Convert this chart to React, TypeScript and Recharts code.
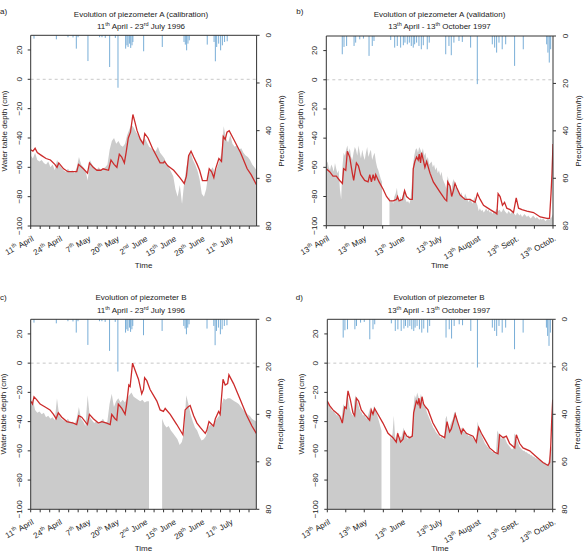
import React from 'react';
import {
  ComposedChart,
  Area,
  Line,
  XAxis,
  YAxis,
  ReferenceLine,
} from 'recharts';

const FONT = '"Liberation Sans", Arial, Helvetica, sans-serif';

// observed water table depth (cm), one value per day, null = missing record
const obsA = [
  -52, -54, -50, -55, -56, -55, -57, -58, -56, -60,
  -58, -62, -55, -58, -60, -62, -63, -61, -63, -62,
  -64, -60, -53, -58, -60, -62, -69, -55, -58, -60,
  -62, -60, -62, -61, -60, -58, -48, -42, -40, -44,
  -42, -45, -46, -44, -38, -34, -31, -33, -36, -38,
  -40, -42, -40, -43, -46, -47, -48, -49, -46, -50,
  -52, -54, -58, -60, -63, -66, -75, -80, -72, -85,
  -70, -60, -52, -50, -55, -58, -62, -68, -78, -80,
  -75, -64, -62, -60, -64, -60, -56, -50, -32, -40,
  -43, -38, -44, -46, -45, -48, -47, -50, -52, -53,
  -55, -58, -60, -62,
];

const obsB = [
  -58, -56, -60, -62, -58, -60, -63, -57, -61, -64,
  -62, -75, -82, -60, -50, -52, -48, -45, -50, -47,
  -53, -55, -50, -46, -48, -52, -45, -50, -54, -48,
  -52, -55, -50, -46, -53, -50, -48, -55, -52, -50,
  -56, -60, -62, -65, -68, -70, null, null, null, null,
  null, -80, -84, -82, -85, -80, -78, -74, -82, -84,
  -80, -83, -78, -76, -82, -84, -83, -85, -82, -72,
  -58, -52, -48, -47, -50, -46, -48, -50, -47, -52,
  -50, -55, -53, -58, -57, -56, -60, -58, -62, -60,
  -64, -62, -66, -63, -68, -70, -72, -75, -66, -70,
  -72, -76, -70, -68, -74, -72, -76, -78, -80, -77,
  -80, -82, -78, -80, -82, -84, -81, -83, -85, -82,
  -80, -84, -86, -90, -88, -90, -89, -91, -90, -88,
  -90, -89, -91, -90, -92, -90, -91, -89, -88, -90,
  -89, -91, -90, -88, -90, -91, -92, -90, -91, -92,
  -90, -91, -92, -93, -91, -92, -93, -92, -94, -93,
  -92, -93, -94, -93, -94, -95, -94, -93, -94, -95,
  -94, -95, -96, -95, -96, -95, -96, -97, -96, -95,
  -96, -95, -94, -92,
];

const obsC = [
  -30, -25, -32, -34, -33, -35, -34, -37, -36, -38,
  -37, -39, -24, -36, -38, -39, -40, -38, -41, -40,
  -42, -38, -30, -38, -40, -43, -22, -37, -39, -41,
  -40, -42, -40, -38, -41, -40, -28, -21, -30, -26,
  -24, -27, -25, -27, -24, -22, -20, -23, -24, -25,
  -26, -25, -27, -26, -26, null, null, null, null, null,
  -38, -42, -44, -43, -46, -48, -50, -52, -56, -54,
  -48, -22, -28, -35, -40, -44, -46, -50, -53, -52,
  -50, -44, -42, -43, -40, -38, -36, -30, -24, -25,
  -24, -24, -25, -26, -27, -28, -30, -32, -33, -35,
  -36, -38, -39, -40,
];

const obsD = [
  -26, -28, -30, -31, -33, -32, -34, -35, -36, -34,
  -37, -40, -35, -28, -30, -29, -20, -24, -30, -33,
  -35, -36, -26, -22, -25, -28, -31, -33, -34, -36,
  -35, -37, -38, -36, -33, -30, -34, -33, -29, -32,
  -34, -37, -40, -43, -46, null, null, null, null, null,
  null, -50, -52, -48, -36, -50, -53, -46, -52, -50,
  -51, -48, -44, -48, -50, -52, -49, -51, -50, -48,
  -30, -22, -24, -20, -23, -26, -21, -25, -28, -30,
  -31, -34, -36, -38, -40, -42, -44, -45, -47, -48,
  -49, -50, -51, -50, -52, -51, -38, -36, -44, -45,
  -42, -40, -38, -34, -33, -38, -42, -45, -47, -44,
  -46, -47, -48, -47, -49, -50, -49, -50, -51, -52,
  -53, -52, -40, -44, -47, -49, -51, -53, -55, -56,
  -57, -58, -59, -60, -61, -60, -62, -61, -46, -48,
  -50, -51, -52, -50, -51, -53, -55, -56, -57, -58,
  -59, -58, -48, -50, -53, -55, -57, -58, -59, -60,
  -60, -61, -61, -62, -62, -63, -63, -64, -64, -65,
  -65, -66, -66, -67, -67, -68, -68, -68, -69, -69,
  -66, -62, -58, -55,
];

// simulated water table depth [day, cm]
const simA = [
  [0, -48], [1, -49], [2, -47], [3, -50], [5, -52], [7, -54], [9, -55], [11, -58],
  [12, -60], [12.8, -57], [15, -61], [17, -63], [21, -63], [21.8, -58], [24, -61],
  [25.9, -64], [26.8, -57], [28.5, -60], [30.2, -62], [32, -62], [33, -61], [35.5, -62],
  [36.6, -55], [38, -58], [39.3, -60], [40.4, -51], [41.5, -53], [42.7, -57], [43.5, -50],
  [44.5, -40], [45.5, -36], [46.6, -24], [47.5, -29], [48.5, -35], [50, -41], [51.3, -44],
  [52, -37], [53.5, -40], [55.5, -47], [57.6, -53], [59, -57], [60.5, -57], [61, -56],
  [62.5, -59], [65.2, -62], [68, -67], [70, -71], [71, -66], [72, -52], [73.1, -49],
  [74.3, -53], [75.9, -58], [77, -62], [78.3, -69], [80.4, -69], [81.4, -61], [82.5, -63],
  [83.5, -67], [84.3, -61], [85.8, -54], [87, -56], [87.8, -39], [88.7, -41], [89.5, -36],
  [90.5, -35], [92.6, -41], [95.7, -50], [98.7, -61], [100.5, -65], [103, -72],
];

const simB = [
  [0, -61], [2.7, -63], [5.4, -66], [8.1, -66], [10.8, -69], [13, -71], [14, -61],
  [15.7, -62], [17, -49], [18.9, -53], [21, -64], [22.1, -69], [24.3, -57], [25.9, -59],
  [27.8, -65], [31, -69], [33.7, -70], [35.1, -65], [36.4, -70], [37.8, -65], [39.1, -69],
  [39.9, -65], [42.6, -70], [45.9, -75], [48.6, -80], [51.3, -83], [54, -83], [56.7, -82],
  [57.5, -80], [58.8, -83], [61.5, -82], [63.2, -76], [64.8, -80], [67.5, -82], [69.4, -82],
  [70.2, -61], [71.5, -56], [72.9, -53], [74.2, -55], [75, -51], [76.1, -57], [76.9, -50],
  [78.3, -55], [79.6, -60], [81, -56], [83.7, -64], [86.4, -70], [91.8, -77], [95.8, -82],
  [97.2, -83], [98, -70], [99.9, -73], [101.2, -80], [102.6, -76], [103.9, -71], [105.3, -74],
  [108, -79], [112, -82], [116, -82], [120.1, -84], [122, -78], [124.2, -82], [126.9, -86],
  [132.3, -89], [136.3, -91], [137.7, -92], [138.7, -78], [140.3, -80], [142.2, -86],
  [143.9, -84], [145.7, -88], [148.4, -89], [151.1, -91], [153.3, -81], [155.2, -88],
  [157.9, -89], [161.9, -90], [167.3, -91], [172.7, -94], [178.1, -95], [180.2, -95],
  [181.4, -78], [182.2, -64], [183, -44],
];

const simC = [
  [0, -26], [0.8, -28], [1.5, -23], [2.7, -25], [4.3, -28], [6.6, -30], [8.8, -32],
  [10.4, -35], [11.6, -38], [12.6, -34], [14.2, -37], [16.5, -40], [19.5, -41], [21, -42],
  [21.9, -36], [23.3, -37], [25.9, -42], [26.8, -35], [28.6, -38], [30.9, -41], [32.5, -40],
  [34.7, -41], [36.3, -42], [37, -35], [38.5, -38], [39.3, -39], [40, -28], [41.6, -31],
  [43.1, -35], [43.8, -28], [44.8, -15], [45.4, -16], [46.5, 0], [47.7, -5], [49.2, -11],
  [50.7, -21], [51.5, -18], [52, -10], [53, -12], [54.5, -18], [57.6, -26], [59.1, -32],
  [60.6, -33], [61.4, -31], [63.7, -35], [66.7, -42], [69.5, -49], [70.5, -32], [71.8, -30],
  [72.8, -29], [74.4, -36], [75.9, -41], [77.4, -44], [79.7, -48], [80.4, -46], [81.4, -40],
  [82.7, -42], [83.5, -43], [84.3, -38], [85.8, -33], [86.5, -35], [87.8, -11], [88.8, -15],
  [89.9, -14], [90.5, -8], [92.6, -14], [95.7, -25], [98.7, -36], [101, -43], [103, -48],
];

const simD = [
  [0, -26], [1.9, -29], [4.6, -32], [7.3, -34], [10, -36], [12.2, -41], [14.1, -30],
  [15.4, -31], [16.8, -19], [18.7, -25], [20.8, -34], [22.2, -36], [23.6, -24], [25.4, -26],
  [27.6, -32], [30.3, -35], [34.4, -39], [35.7, -32], [37.1, -35], [38.4, -31], [41.1, -35],
  [45.2, -41], [49.3, -48], [53.3, -51], [56, -54], [57.1, -48], [59.4, -54], [61.5, -52],
  [62.6, -47], [64.7, -50], [66.9, -51], [69, -50], [70.1, -34], [72.3, -26], [73.6, -28],
  [74.4, -24], [75.5, -31], [76.9, -23], [78.2, -28], [79.8, -30], [81.8, -32], [85.8, -41],
  [91.2, -49], [95.3, -51], [97.2, -40], [99.3, -47], [100.7, -45], [103.9, -35], [106.1, -41],
  [108.8, -48], [110.2, -45], [112.9, -48], [115.6, -49], [118.3, -50], [121, -54],
  [122.9, -44], [125.1, -48], [127.8, -52], [131.8, -58], [135.9, -61], [138.6, -62],
  [139.9, -49], [142.7, -51], [145.4, -50], [148.1, -55], [152.2, -58], [153.5, -49],
  [156.2, -55], [158.9, -58], [164.3, -60], [169.7, -64], [175.1, -68], [179.2, -70],
  [180.5, -68], [181.4, -57], [182.2, -39], [183, -25],
];

// precipitation [day, mm/h]
const rain1996 = [
  [1.5, 1.4], [11.7, 1.7], [17, 0.8], [19.3, 0.9], [20.8, 5.6], [21.6, 0.8], [26.1, 10.8],
  [31.4, 0.8], [32.5, 0.8], [34, 1.1], [36, 13.3], [38.6, 1.1], [39.8, 22],
  [43.3, 5.6], [43.9, 4.2], [44.4, 4.9], [45.1, 3.5], [45.6, 5.3], [46.2, 4.2], [46.6, 2.8],
  [51.5, 6.7], [60, 4.9], [69.9, 2.8], [70.5, 3.9], [71.1, 6.3], [71.7, 3.5], [72.3, 2.1],
  [80.5, 3.9], [83.6, 2.8], [84.2, 10.9], [84.8, 4.9], [85.7, 3.5], [86.6, 6.3], [87.4, 4.2],
  [88.4, 2.8], [89.6, 2.5],
];

const rain1997 = [
  [12.9, 7.7], [14.3, 4.6], [16.4, 4.2], [22.4, 4.2], [23.7, 2.8], [27, 1.4], [30, 1.1],
  [34.5, 8.4], [37.1, 4.2], [38.5, 2.1], [52, 1.7], [55.2, 4.9], [57.3, 4.2], [60, 4.9],
  [62.2, 3.9], [63.5, 2.8], [65.4, 3.5], [67, 2.8], [68.6, 4.2], [70.2, 4.9], [71.3, 3.5],
  [72.9, 2.8], [74.8, 4.2], [76.7, 5.6], [78.3, 3.9], [81.5, 5.6], [83.1, 2.8], [96.4, 7.7],
  [99, 4.2], [100.9, 8.1], [103, 2.8], [107.1, 2.1], [109.8, 2.5], [116.5, 4.9], [121.9, 20.3],
  [134, 3.5], [135.9, 4.9], [137.5, 7], [139.4, 2.8], [142, 5.6], [144.8, 3.5], [152, 12.6],
  [159, 5.6], [177.9, 3.5], [178.9, 7], [180, 11.2], [181.1, 5.6],
];

// x axis ticks (day index) and their labels [day, number, suffix, month]
const ticks1996 = [
  0, 4.33, 8.67, 13, 17.33, 21.67, 26, 30.33, 34.67, 39, 43.33, 47.67,
  52, 56.33, 60.67, 65, 69.33, 73.67, 78, 82.33, 86.67, 91, 95.33, 99.67,
];
const labels1996 = [
  [0, '11', 'th', ' April'], [13, '24', 'th', ' April'], [26, '7', 'th', ' May'],
  [39, '20', 'th', ' May'], [52, '2', 'nd', ' June'], [65, '15', 'th', ' June'],
  [78, '28', 'th', ' June'], [91, '11', 'th', ' July'],
];
const ticks1997 = [0, 15, 30, 45.5, 61, 76, 91, 106.5, 122, 137.5, 153, 168, 183];
const labels1997 = [
  [0, '13', 'th', ' April'], [30, '13', 'th', ' May'], [61, '13', 'th', ' June'],
  [91, '13', 'th', 'July'], [122, '13', 'th', ' August'], [153, '13', 'th', ' Sept.'],
  [183, '13', 'th', ' Octob.'],
];

const depthTicks = [-100, -80, -60, -40, -20, 0, 20];
const rainTicks = [0, 20, 40, 60, 80];

const fmt = (v: number) => (v < 0 ? '\u2212' + Math.abs(v) : String(v));

const makeXTick = (labels: any[]) => (p: any) => {
  const lab = labels.find((l) => Math.abs(l[0] - p.payload.value) < 0.01);
  if (!lab) return <g />;
  const tx = p.x + 2;
  const ty = p.y + 8.7;
  return (
    <text
      x={tx}
      y={ty}
      transform={`rotate(-30 ${tx} ${ty})`}
      textAnchor="end"
      dominantBaseline="central"
      fontSize={8}
      fontFamily={FONT}
      fill="#222"
    >
      {lab[1]}
      <tspan dy={-3} fontSize={5.5}>
        {lab[2]}
      </tspan>
      <tspan dy={3}>{lab[3]}</tspan>
    </text>
  );
};

const LeftTick = (p: any) => {
  const bx = p.x - 5.8;
  return (
    <text x={bx} y={p.y} transform={`rotate(-90 ${bx} ${p.y})`} textAnchor="middle"
      fontSize={8} fontFamily={FONT} fill="#222">
      {fmt(p.payload.value)}
    </text>
  );
};

const RightTick = (p: any) => {
  const bx = p.x + 11.6;
  return (
    <text x={bx} y={p.y} transform={`rotate(-90 ${bx} ${p.y})`} textAnchor="middle"
      fontSize={8} fontFamily={FONT} fill="#222">
      {fmt(p.payload.value)}
    </text>
  );
};

interface PanelProps {
  obs: (number | null)[];
  sim: number[][];
  rain: number[][];
  xMax: number;
  ticks: number[];
  labels: any[];
  width: number;
  lw: number;
  rw: number;
  top: number;
  xh: number;
}

const frame = { stroke: '#333', strokeWidth: 1 };

const Panel: React.FC<PanelProps> = ({ obs, sim, rain, xMax, ticks, labels, width, lw, rw, top, xh }) => {
  const data = obs.map((v, i) => ({ d: i, obs: v }));
  const simData = sim.map(([d, v]) => ({ d, sim: v }));
  return (
    <ComposedChart width={width} height={280} data={data} margin={{ top, right: 0, bottom: 0, left: 0 }}>
      <XAxis
        dataKey="d"
        type="number"
        domain={[0, xMax]}
        ticks={ticks}
        interval={0}
        allowDataOverflow
        height={xh}
        tickSize={3}
        tickMargin={0}
        axisLine={frame}
        tickLine={{ stroke: '#333' }}
        tick={makeXTick(labels)}
      />
      <YAxis
        yAxisId="l"
        orientation="left"
        width={lw}
        domain={[-100, 30]}
        ticks={depthTicks}
        interval={0}
        allowDataOverflow
        tickSize={3}
        tickMargin={0}
        axisLine={frame}
        tickLine={{ stroke: '#333' }}
        tick={LeftTick}
      />
      <YAxis
        yAxisId="r"
        orientation="right"
        width={rw}
        domain={[0, 80]}
        reversed
        ticks={rainTicks}
        interval={0}
        allowDataOverflow
        tickSize={3}
        tickMargin={0}
        axisLine={frame}
        tickLine={{ stroke: '#333' }}
        tick={RightTick}
      />
      <Area
        yAxisId="l"
        type="linear"
        dataKey="obs"
        baseValue={-100}
        fill="#cbcbcb"
        fillOpacity={1}
        stroke="none"
        isAnimationActive={false}
      />
      <ReferenceLine yAxisId="l" y={0} stroke="#c8c8c8" strokeDasharray="3 3" />
      {rain.map(([d, v], i) => (
        <ReferenceLine
          key={i}
          yAxisId="r"
          segment={[{ x: d, y: 0 }, { x: d, y: v }]}
          stroke="#6aa5d3"
          strokeWidth={0.9}
        />
      ))}
      <Line
        yAxisId="l"
        data={simData}
        dataKey="sim"
        type="linear"
        stroke="#cc2b2b"
        strokeWidth={1.3}
        dot={false}
        isAnimationActive={false}
      />
      <ReferenceLine yAxisId="l" y={30} stroke="#333" strokeWidth={1} />
    </ComposedChart>
  );
};

const Txt: React.FC<{ x: number; y: number; rot?: boolean; start?: boolean; children: React.ReactNode }> = ({
  x, y, rot, start, children,
}) => (
  <div
    style={{
      position: 'absolute',
      left: start ? x : x - 150,
      top: y - 5,
      width: start ? 20 : 300,
      height: 10,
      lineHeight: '10px',
      fontSize: 8,
      fontFamily: FONT,
      color: '#222',
      textAlign: start ? 'left' : 'center',
      whiteSpace: 'nowrap',
      transform: rot ? 'rotate(-90deg)' : undefined,
    }}
  >
    {children}
  </div>
);

const Sup: React.FC<{ children: React.ReactNode }> = ({ children }) => (
  <span style={{ fontSize: 5.5, position: 'relative', top: -3 }}>{children}</span>
);

const App: React.FC = () => (
  <div style={{ position: 'absolute', left: 0, top: 0, width: 587, height: 560, overflow: 'hidden', background: '#fff' }}>
    <div style={{ position: 'absolute', left: 0, top: 0 }}>
      <Panel obs={obsA} sim={simA} rain={rain1996} xMax={103} ticks={ticks1996} labels={labels1996}
        width={293} lw={30.7} rw={36.4} top={35.3} xh={54} />
    </div>
    <div style={{ position: 'absolute', left: 293, top: 0 }}>
      <Panel obs={obsB} sim={simB} rain={rain1997} xMax={183} ticks={ticks1997} labels={labels1997}
        width={294} lw={33.3} rw={34} top={36} xh={54.3} />
    </div>
    <div style={{ position: 'absolute', left: 0, top: 280 }}>
      <Panel obs={obsC} sim={simC} rain={rain1996} xMax={103} ticks={ticks1996} labels={labels1996}
        width={293} lw={30.7} rw={36.7} top={39.3} xh={50.7} />
    </div>
    <div style={{ position: 'absolute', left: 293, top: 280 }}>
      <Panel obs={obsD} sim={simD} rain={rain1997} xMax={183} ticks={ticks1997} labels={labels1997}
        width={294} lw={34.3} rw={34.3} top={39.3} xh={50.7} />
    </div>

    <Txt x={0} y={12.3} start>a)</Txt>
    <Txt x={141} y={15}>Evolution of piezometer A (calibration)</Txt>
    <Txt x={141} y={26.7}>11<Sup>th</Sup> April - 23<Sup>rd</Sup> July 1996</Txt>
    <Txt x={4.7} y={130.6} rot>Water table depth (cm)</Txt>
    <Txt x={282} y={130.6} rot>Precipitation (mm/h)</Txt>
    <Txt x={143.6} y={266}>Time</Txt>

    <Txt x={296.3} y={12.3} start>b)</Txt>
    <Txt x={439.5} y={15}>Evolution of piezometer A (validation)</Txt>
    <Txt x={439.5} y={26.7}>13<Sup>th</Sup> April - 13<Sup>th</Sup> October 1997</Txt>
    <Txt x={301.3} y={131} rot>Water table depth (cm)</Txt>
    <Txt x={578.7} y={131} rot>Precipitation (mm/h)</Txt>
    <Txt x={439.7} y={266}>Time</Txt>

    <Txt x={0} y={298.3} start>c)</Txt>
    <Txt x={141} y={298.3}>Evolution of piezometer B</Txt>
    <Txt x={141} y={311}>11<Sup>th</Sup> April - 23<Sup>rd</Sup> July 1996</Txt>
    <Txt x={4.3} y={414.3} rot>Water table depth (cm)</Txt>
    <Txt x={280.7} y={414.3} rot>Precipitation (mm/h)</Txt>
    <Txt x={143.5} y={549.3}>Time</Txt>

    <Txt x={295.7} y={298.3} start>d)</Txt>
    <Txt x={439} y={298.3}>Evolution of piezometer B</Txt>
    <Txt x={439} y={311}>13<Sup>th</Sup> April - 13<Sup>th</Sup> October 1997</Txt>
    <Txt x={302} y={414.3} rot>Water table depth (cm)</Txt>
    <Txt x={578} y={414.3} rot>Precipitation (mm/h)</Txt>
    <Txt x={440} y={549.3}>Time</Txt>
  </div>
);

export default App;
